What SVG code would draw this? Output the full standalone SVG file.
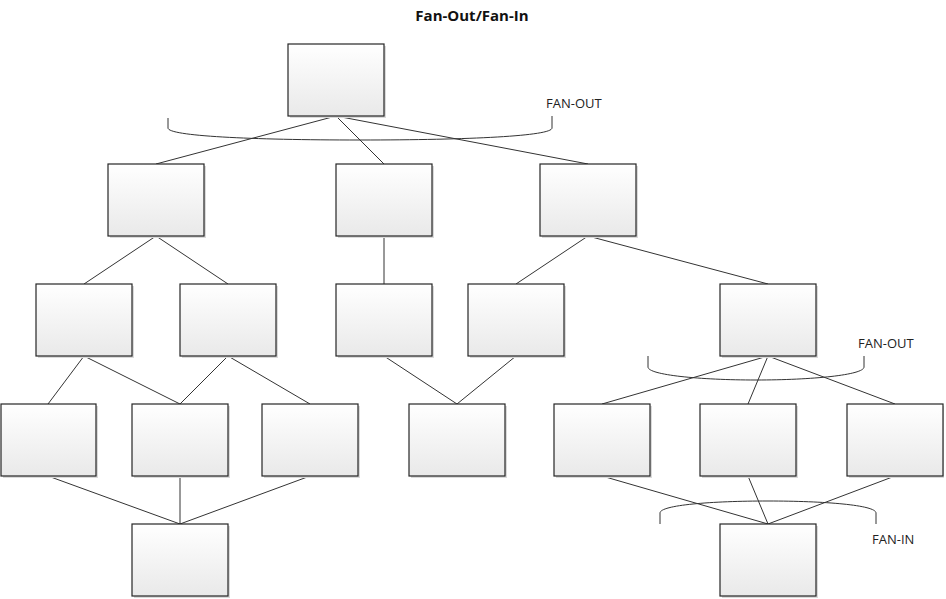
<svg xmlns="http://www.w3.org/2000/svg" width="946" height="599" viewBox="0 0 946 599">
<defs>
<linearGradient id="g" x1="0" y1="0" x2="0" y2="1">
<stop offset="0" stop-color="#ffffff"/>
<stop offset="1" stop-color="#e9e9e9"/>
</linearGradient>
<style>
.b{fill:url(#g);stroke:#262626;stroke-width:1.2}
.s{fill:#dadada;stroke:none}
.c line,.c path{stroke:#333;stroke-width:1;fill:none}
.t{font-family:"Open Sans","Liberation Sans",sans-serif;font-size:13px;fill:#222}
.h{font-family:"Open Sans","Liberation Sans",sans-serif;font-size:15px;font-weight:bold;fill:#111}
</style>
</defs>
<rect width="946" height="599" fill="#fff"/>
<text class="h" x="472" y="21" text-anchor="middle">Fan-Out/Fan-In</text>
<g class="c" id="connectors">
<line x1="336" y1="116" x2="156" y2="164"/>
<line x1="336" y1="116" x2="384" y2="164"/>
<line x1="336" y1="116" x2="588" y2="164"/>
<line x1="156" y1="236" x2="84" y2="284"/>
<line x1="156" y1="236" x2="228" y2="284"/>
<line x1="384" y1="236" x2="384" y2="284"/>
<line x1="588" y1="236" x2="516" y2="284"/>
<line x1="588" y1="236" x2="768" y2="284"/>
<line x1="84" y1="356" x2="48" y2="404"/>
<line x1="84" y1="356" x2="180" y2="404"/>
<line x1="228" y1="356" x2="180" y2="404"/>
<line x1="228" y1="356" x2="310" y2="404"/>
<line x1="384" y1="356" x2="457" y2="404"/>
<line x1="516" y1="356" x2="457" y2="404"/>
<line x1="768" y1="356" x2="602" y2="404"/>
<line x1="768" y1="356" x2="748" y2="404"/>
<line x1="768" y1="356" x2="895" y2="404"/>
<line x1="48" y1="476" x2="180" y2="524"/>
<line x1="180" y1="476" x2="180" y2="524"/>
<line x1="310" y1="476" x2="180" y2="524"/>
<line x1="602" y1="476" x2="768" y2="524"/>
<line x1="748" y1="476" x2="768" y2="524"/>
<line x1="895" y1="476" x2="768" y2="524"/>
<path d="M168,118 V128 C168,136 250,140 360,140 C470,140 552,136 552,128 V116"/>
<path d="M648,356 V367 C648,375 700,380 756,380 C812,380 864,375 864,367 V356"/>
<path d="M660,524 V513 C660,505 712,501 768,501 C824,501 876,505 876,513 V524"/>
</g>
<g id="top"><rect class="s" x="290" y="46" width="96" height="72"/><rect class="b" x="288" y="44" width="96" height="72"/></g>
<g id="r2a"><rect class="s" x="110" y="166" width="96" height="72"/><rect class="b" x="108" y="164" width="96" height="72"/></g>
<g id="r2b"><rect class="s" x="338" y="166" width="96" height="72"/><rect class="b" x="336" y="164" width="96" height="72"/></g>
<g id="r2c"><rect class="s" x="542" y="166" width="96" height="72"/><rect class="b" x="540" y="164" width="96" height="72"/></g>
<g id="r3a"><rect class="s" x="38" y="286" width="96" height="72"/><rect class="b" x="36" y="284" width="96" height="72"/></g>
<g id="r3b"><rect class="s" x="182" y="286" width="96" height="72"/><rect class="b" x="180" y="284" width="96" height="72"/></g>
<g id="r3c"><rect class="s" x="338" y="286" width="96" height="72"/><rect class="b" x="336" y="284" width="96" height="72"/></g>
<g id="r3d"><rect class="s" x="470" y="286" width="96" height="72"/><rect class="b" x="468" y="284" width="96" height="72"/></g>
<g id="r3e"><rect class="s" x="722" y="286" width="96" height="72"/><rect class="b" x="720" y="284" width="96" height="72"/></g>
<g id="r4a"><rect class="s" x="3" y="406" width="95" height="72"/><rect class="b" x="1" y="404" width="95" height="72"/></g>
<g id="r4b"><rect class="s" x="134" y="406" width="96" height="72"/><rect class="b" x="132" y="404" width="96" height="72"/></g>
<g id="r4c"><rect class="s" x="264" y="406" width="96" height="72"/><rect class="b" x="262" y="404" width="96" height="72"/></g>
<g id="r4d"><rect class="s" x="411" y="406" width="96" height="72"/><rect class="b" x="409" y="404" width="96" height="72"/></g>
<g id="r4e"><rect class="s" x="556" y="406" width="96" height="72"/><rect class="b" x="554" y="404" width="96" height="72"/></g>
<g id="r4f"><rect class="s" x="702" y="406" width="96" height="72"/><rect class="b" x="700" y="404" width="96" height="72"/></g>
<g id="r4g"><rect class="s" x="849" y="406" width="95" height="72"/><rect class="b" x="847" y="404" width="96" height="72"/></g>
<g id="r5a"><rect class="s" x="134" y="526" width="96" height="72"/><rect class="b" x="132" y="524" width="96" height="72"/></g>
<g id="r5b"><rect class="s" x="722" y="526" width="96" height="72"/><rect class="b" x="720" y="524" width="96" height="72"/></g>
<g id="labels">
<text class="t" x="546" y="108">FAN-OUT</text>
<text class="t" x="858" y="348">FAN-OUT</text>
<text class="t" x="872" y="544">FAN-IN</text>
</g>
</svg>
